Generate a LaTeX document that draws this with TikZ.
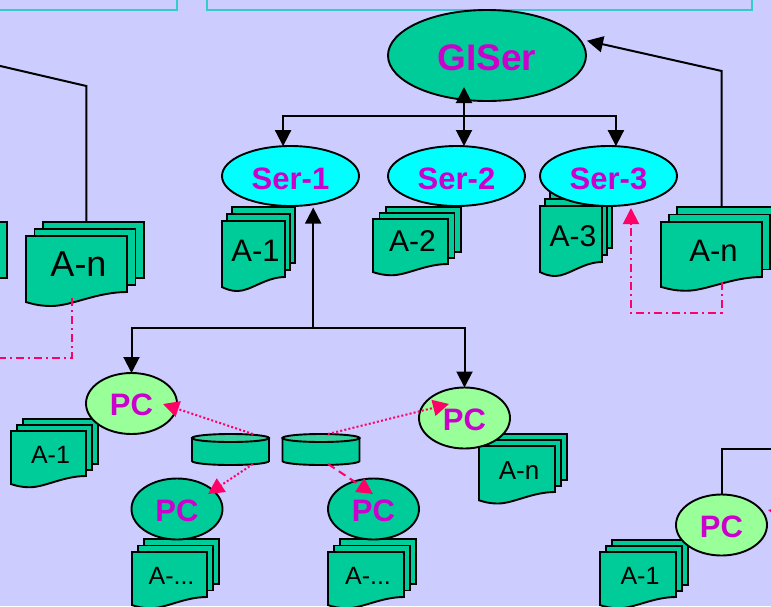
\documentclass[tikz,border=0pt]{standalone}
\usepackage{fontspec}
\setmainfont{Liberation Sans}
\usepackage{tikz}
\usetikzlibrary{shapes.geometric, arrows.meta}
\definecolor{pageBlue}{HTML}{CCCCFF}
\definecolor{sheetGreen}{HTML}{00CC99}
\definecolor{lightGreen}{HTML}{99FF99}
\definecolor{serverCyan}{HTML}{00FFFF}
\definecolor{labelPurple}{HTML}{CC00CC}
\definecolor{linkPink}{HTML}{FF0066}
\definecolor{frameTeal}{HTML}{33CCCC}
\definecolor{diskTop}{HTML}{33CF9F}
\tikzstyle{regionBox} = [rectangle, draw=frameTeal, line width=2pt, inner sep=0pt, outer sep=0pt]
\tikzstyle{sheet} = [draw=black, fill=sheetGreen, line width=1.9pt, line join=miter]
\tikzstyle{stackBox} = [rectangle, inner sep=0pt, outer sep=0pt]
\tikzstyle{stackLabel} = [inner sep=0pt, anchor=base, text=black]
\tikzstyle{hostNode} = [ellipse, draw=black, line width=1.9pt, inner sep=0pt, outer sep=0pt, text=labelPurple, text height=24pt, text depth=0pt, font=\bfseries\fontsize{31}{34}\selectfont]
\tikzstyle{mainHost} = [hostNode, fill=sheetGreen, minimum width=198pt, minimum height=91pt, text height=29.5pt, font=\bfseries\fontsize{37}{40}\selectfont]
\tikzstyle{server} = [hostNode, fill=serverCyan, minimum width=137pt, minimum height=60pt, text height=26pt]
\tikzstyle{pcLight} = [hostNode, fill=lightGreen, minimum width=91pt, minimum height=61pt]
\tikzstyle{pcDark} = [hostNode, fill=sheetGreen, minimum width=91pt, minimum height=61pt]
\tikzstyle{diskBox} = [rectangle, inner sep=0pt, outer sep=0pt, minimum width=77pt, minimum height=31pt]
\tikzstyle{arrow} = [line width=2pt,->,>={Triangle[width=16pt,length=16pt]}]
\tikzstyle{plainLine} = [line width=2pt]
\tikzstyle{dashDotLink} = [arrow, draw=linkPink, dash pattern=on 8pt off 4pt on 2pt off 4pt]
\tikzstyle{dotLink} = [arrow, draw=linkPink, dash pattern=on 2pt off 2.2pt]
\tikzstyle{dashLink} = [arrow, draw=linkPink, dash pattern=on 8pt off 5pt]

% name, left, top, width, height, sheet offset x, sheet offset y, font size, label
\newcommand{\docStack}[9]{
\draw [sheet] ({#2+2*#6},{#3-2*#7}) rectangle ({#2+#4+2*#6},{#3-2*#7+#5});
\draw [sheet] ({#2+#6},{#3-#7}) rectangle ({#2+#4+#6},{#3-#7+#5});
\draw [sheet] (#2,#3) -- ({#2+#4},#3) -- ({#2+#4},{#3+#5})
  .. controls ({#2+0.7*#4},{#3+#5}) and ({#2+0.45*#4},{#3+1.25*#5}) .. ({#2+0.25*#4},{#3+1.25*#5})
  .. controls ({#2+0.13*#4},{#3+1.25*#5}) and ({#2+0.06*#4},{#3+1.21*#5}) .. (#2,{#3+1.18*#5}) -- cycle;
\node (#1) [stackBox, minimum width={(#4+2*#6)*1pt}, minimum height={(1.25*#5+2*#7)*1pt}] at ({#2+#4/2+#6},{#3-2*#7+(1.25*#5+2*#7)/2}) {};
\node (#1Label) [stackLabel, font=\fontsize{#8}{#8}\selectfont] at ({#2+#4/2+2},{#3+0.72*#5}) {#9};
}
% name, centre x, centre y
\newcommand{\diskDrum}[3]{
\draw [sheet] ({#2-38.5},{#3-11.5}) -- ({#2-38.5},{#3+11.5}) arc [start angle=180, end angle=360, x radius=38.5pt, y radius=4pt] -- ({#2+38.5},{#3-11.5}) -- cycle;
\draw [sheet, fill=diskTop] (#2,{#3-11.5}) ellipse [x radius=38.5pt, y radius=4pt];
\node (#1) [diskBox] at (#2,#3) {};
}

\begin{document}
\begin{tikzpicture}[x=1pt, y=-1pt, node distance=166pt]
\useasboundingbox (0,0) rectangle (771,606);
\clip (0,0) rectangle (771,606);
\fill [pageBlue] (0,0) rectangle (771,606);

\node (regionLeft) [regionBox, anchor=south east, minimum width=190pt, minimum height=20pt] at (177,10) {};
\node (regionMiddle) [regionBox, anchor=south west, minimum width=545pt, minimum height=20pt] at (207,10) {};

\docStack{stackOff}{-111}{236}{101}{56}{8.5}{7}{31}{}
\docStack{stackLeftN}{26}{236}{101}{56}{8.5}{7}{36}{A-n}
\docStack{stackOne}{222}{221}{63}{56}{5}{7}{31}{A-1}
\docStack{stackTwo}{373}{219}{75}{45}{6.5}{6}{30}{A-2}
\docStack{stackThree}{540}{206}{62}{56}{5}{7}{30}{A-3}
\docStack{stackRightN}{661}{222}{101}{55}{8}{7.5}{31}{A-n}
\docStack{stackPcA}{11}{431}{75}{45}{6}{6}{25}{A-1}
\docStack{stackPcB}{132}{552}{75}{45}{6}{6.5}{25}{A-...}
\docStack{stackPcC}{328}{552}{76}{45}{6}{6.5}{25}{A-...}
\docStack{stackPcD}{479}{446}{76}{46}{6}{6}{26}{A-n}
\docStack{stackPcE}{600}{552}{76}{45}{6}{6}{25}{A-1}

\node (giser) [mainHost] at (487,55.5) {GISer};
\node (ser1) [server] at (290.5,176) {Ser-1};
\node (ser2) [server, right of=ser1] {Ser-2};
\node (ser3) [server, right of=ser2, xshift=-14pt] {Ser-3};
\node (pcA) [pcLight] at (131.5,403.5) {PC};
\node (pcB) [pcDark] at (177,509) {PC};
\node (pcC) [pcDark, right of=pcB, xshift=30.5pt] {PC};
\node (pcD) [pcLight] at (464.5,418) {PC};
\node (pcE) [pcLight] at (721.5,525) {PC};
\diskDrum{diskA}{230.5}{449.5}
\diskDrum{diskB}{321}{449.5}

\coordinate (giserTip) at (464,87);
\coordinate (giserSide) at (587,40.7);
\coordinate (serHub) at (464,116);
\coordinate (pcHub) at (313.2,328);
\coordinate (bendRightN) at (721.7,71);
\coordinate (bendLeftN) at (86.3,86);
\coordinate (offLeftN) at (-4,65);
\coordinate (footRightN) at (721.7,282);
\coordinate (cornerRightN) at (721.7,312.7);
\coordinate (cornerSer3) at (631,312.7);
\coordinate (tipSer3) at (631,208);
\coordinate (footLeftN) at (71.7,298);
\coordinate (cornerLeftN) at (71.7,358);
\coordinate (offLeftDash) at (-4,358);
\coordinate (diskATop) at (253,434);
\coordinate (diskABase) at (253,464);
\coordinate (diskBTop) at (328,434);
\coordinate (diskBBase) at (328,464);
\coordinate (tipPcA) at (163,404);
\coordinate (tipPcB) at (208,494);
\coordinate (tipPcC) at (373,494);
\coordinate (tipPcD) at (449,404);
\coordinate (tipPcE) at (768,510);
\coordinate (offRightPc) at (800,517);
\coordinate (bendPcE) at (721.5,449);
\coordinate (offRightPcE) at (775,449);

\draw [arrow, <->] (giserTip) -- (giserTip |- ser2.north);
\draw [arrow] (serHub) -| (ser1.104);
\draw [arrow] (serHub) -| (ser3.76);
\draw [arrow, shorten >=1.5pt] (pcHub) -- (pcHub |- ser1.south);
\draw [arrow] (pcHub) -| (pcA);
\draw [arrow] (pcHub) -| (pcD);
\draw [arrow] (bendRightN |- stackRightN.north) -- (bendRightN) -- (giserSide);
\draw [plainLine] (bendLeftN |- stackLeftN.north) -- (bendLeftN) -- (offLeftN);
\draw [plainLine] (pcE.north) -- (bendPcE) -- (offRightPcE);

\draw [dashDotLink] (footRightN) -- (cornerRightN) -- (cornerSer3) -- (tipSer3);
\draw [dashDotLink, -] (footLeftN) -- (cornerLeftN) -- (offLeftDash);
\draw [dotLink] (diskATop) -- (tipPcA);
\draw [dotLink] (diskABase) -- (tipPcB);
\draw [dotLink] (diskBTop) -- (tipPcD);
\draw [dashLink] (diskBBase) -- (tipPcC);
\draw [dotLink] (offRightPc) -- (tipPcE);
\end{tikzpicture}
\end{document}
